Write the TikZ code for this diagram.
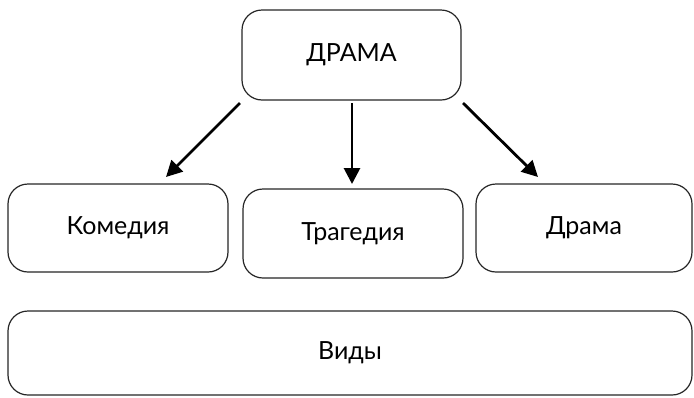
\documentclass[tikz,border=0pt]{standalone}
\usepackage{fontspec}
\setmainfont{Lato}
\usetikzlibrary{arrows.meta}

\tikzset{
  box/.style={draw=black!85,line width=1.2pt,rounded corners=20pt,fill=white,
    inner sep=0pt,font=\fontsize{25}{28}\selectfont},
  arr/.style={line width=2.8pt,-{Triangle[length=16pt,width=16pt]}}
}

\begin{document}
\begin{tikzpicture}[x=1pt,y=-1pt]
  \useasboundingbox (0,0) rectangle (694,397);
  \node (drama) at (351.5,55) [box,minimum width=219pt,minimum height=90pt] {ДРАМА};
  \node (komedia) at (118,228) [box,minimum width=220pt,minimum height=88pt] {Комедия};
  \node (tragedia) at (353,233.5) [box,minimum width=220pt,minimum height=89pt] {Трагедия};
  \node (dramav) at (584,228) [box,minimum width=216pt,minimum height=88pt] {Драма};
  \node (vidy) at (350,353) [box,minimum width=684pt,minimum height=84pt] {Виды};
  \coordinate (l0) at (240,103);
  \coordinate (l1) at (166,177);
  \coordinate (m0) at (352,103);
  \coordinate (m1) at (352,184);
  \coordinate (r0) at (463,103);
  \coordinate (r1) at (538,177);
  \draw[arr] (l0) to (l1);
  \draw[arr] (m0) to (m1);
  \draw[arr] (r0) to (r1);
\end{tikzpicture}
\end{document}
